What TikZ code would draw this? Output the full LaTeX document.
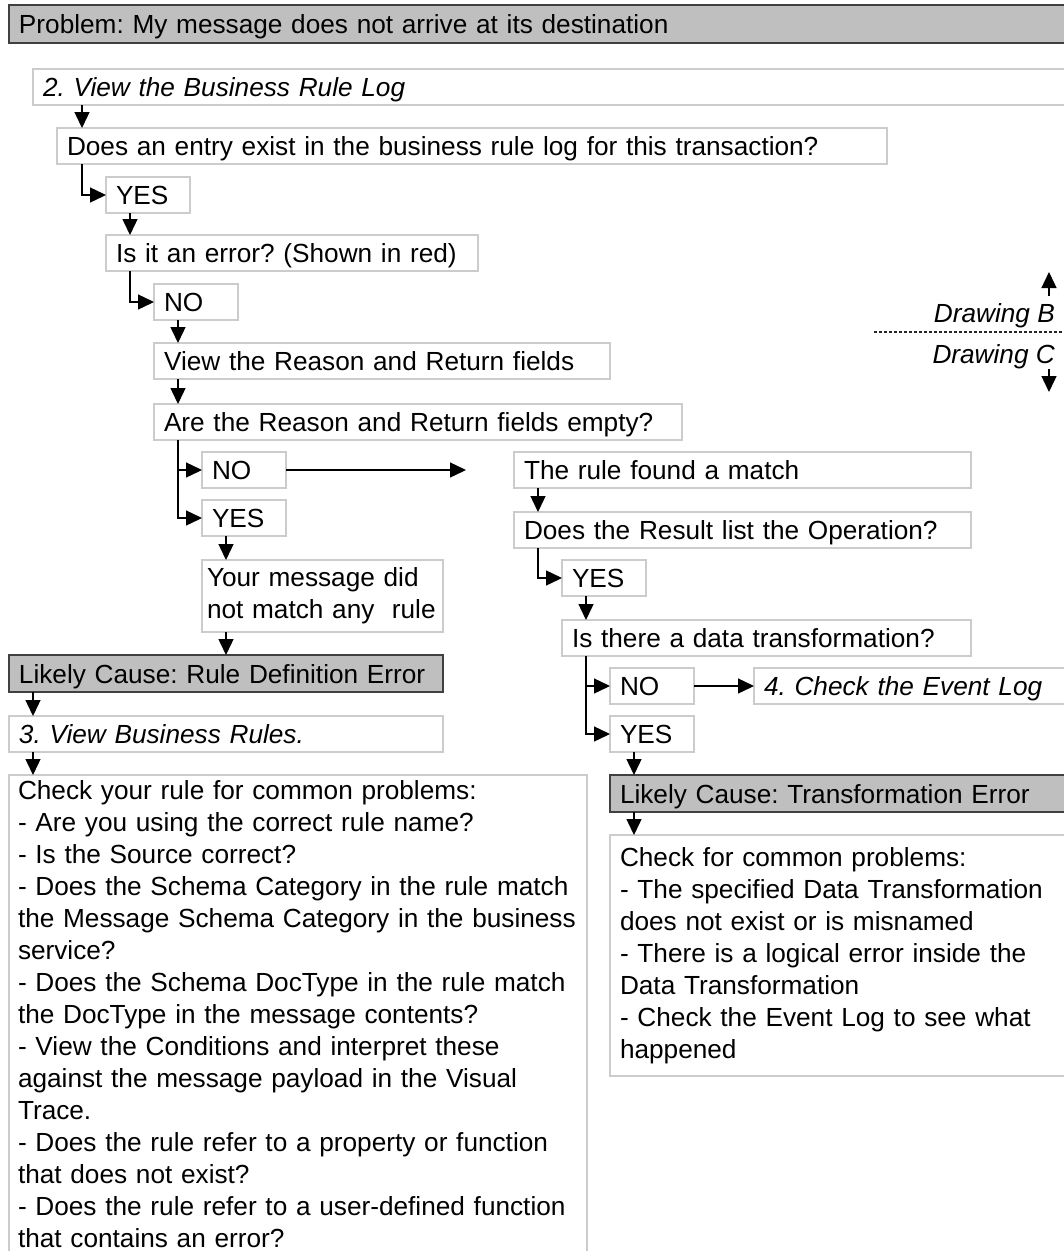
\documentclass[tikz,border=0pt]{standalone}
\usepackage{fontspec}
\setmainfont{Liberation Sans}
\usetikzlibrary{arrows.meta}
\frenchspacing
\hyphenpenalty=10000
\begin{document}
\begin{tikzpicture}[x=1pt, y=-1pt,
		box/.style={draw=black!20, line width=1.5pt, outer sep=0pt, anchor=north west,
			inner xsep=10pt, inner ysep=0pt, minimum height=36pt, align=left,
			text width=#1, font=\fontsize{26.2}{32}\selectfont},
		oneline/.style={text height=19pt, text depth=0pt},
		cause/.style={box=#1, oneline, fill=black!25, draw=black!75, line width=2pt, minimum height=37pt},
		arr/.style={-{Triangle[length=16pt,width=15pt]}, line width=1.4pt, black},
		lbl/.style={font=\fontsize{26.2}{32}\selectfont\itshape, inner sep=0pt, anchor=base east}]
	
	\useasboundingbox (0,0) rectangle (1064,1251);
	
	\node[cause=1080pt, minimum height=38pt] (problem) at (9,5) {Problem: My message does not arrive at its destination};
	\node[box=1080pt, oneline] (view2) at (33,69) {\itshape 2. View the Business Rule Log};
	\node[box=810pt, oneline] (q1) at (57,128) {Does an entry exist in the business rule log for this transaction?};
	\node[box=64pt, oneline] (yes1) at (106,177) {YES};
	\node[box=352pt, oneline] (q2) at (106,235) {Is it an error? (Shown in red)};
	\node[box=64pt, oneline] (no1) at (154,284) {NO};
	\node[box=436pt, oneline] (q3) at (154,343) {View the Reason and Return fields};
	\node[box=508pt, oneline] (q4) at (154,404) {Are the Reason and Return fields empty?};
	\node[box=64pt, oneline] (no2) at (202,452) {NO};
	\node[box=64pt, oneline] (yes2) at (202,500) {YES};
	\node[box=231pt, inner xsep=5pt, minimum height=72pt] (msg) at (202,560) {Your message did\\not match any~ rule};
	\node[cause=414pt] (cause1) at (9,655) {Likely Cause: Rule Definition Error};
	\node[box=414pt, oneline] (view3) at (9,716) {\itshape 3. View Business Rules.};
	\node[box=560pt, inner xsep=9pt, inner ysep=6pt] (check1) at (9,775) {Check your rule for common problems:\\
		- Are you using the correct rule name?\\
		- Is the Source correct?\\
		- Does the Schema Category in the rule match\\
		the Message Schema Category in the business\\
		service?\\
		- Does the Schema DocType in the rule match\\
		the DocType in the message contents?\\
		- View the Conditions and interpret these\\
		against the message payload in the Visual\\
		Trace.\\
		- Does the rule refer to a property or function\\
		that does not exist?\\
		- Does the rule refer to a user-defined function\\
		that contains an error?};
	
	\node[box=437pt, oneline] (found) at (514,452) {The rule found a match};
	\node[box=437pt, oneline] (q5) at (514,512) {Does the Result list the Operation?};
	\node[box=64pt, oneline] (yes3) at (562,560) {YES};
	\node[box=389pt, oneline] (q6) at (562,620) {Is there a data transformation?};
	\node[box=64pt, oneline] (no3) at (610,668) {NO};
	\node[box=64pt, oneline] (yes4) at (610,716) {YES};
	\node[box=340pt, oneline] (event) at (754,668) {\itshape 4. Check the Event Log};
	\node[cause=480pt] (cause2) at (610,775) {Likely Cause: Transformation Error};
	\node[box=480pt, minimum height=241pt] (check2) at (610,835) {Check for common problems:\\
		- The specified Data Transformation\\
		does not exist or is misnamed\\
		- There is a logical error inside the\\
		Data Transformation\\
		- Check the Event Log to see what\\
		happened};
	
	\draw[arr] ([xshift=49pt]view2.south west) -- ([xshift=25pt]q1.north west);
	\draw[arr] ([xshift=25pt]q1.south west) |- (yes1.west);
	\draw[arr] ([xshift=24pt]yes1.south west) -- ([xshift=24pt]q2.north west);
	\draw[arr] ([xshift=24pt]q2.south west) |- (no1.west);
	\draw[arr] ([xshift=24pt]no1.south west) -- ([xshift=24pt]q3.north west);
	\draw[arr] ([xshift=24pt]q3.south west) -- ([xshift=24pt]q4.north west);
	\draw[arr] ([xshift=24pt]q4.south west) |- (no2.west);
	\draw[arr] ([xshift=24pt]q4.south west) |- (yes2.west);
	\draw[arr] ([xshift=24pt]yes2.south west) -- ([xshift=24pt]msg.north west);
	\draw[arr] ([xshift=24pt]msg.south west) -- ([xshift=217pt]cause1.north west);
	\draw[arr] ([xshift=24pt]cause1.south west) -- ([xshift=24pt]view3.north west);
	\draw[arr] ([xshift=24pt]view3.south west) -- ([xshift=24pt]check1.north west);
	
	\draw[arr] (no2.east) -- ([xshift=-48pt]found.west);
	\draw[arr] ([xshift=24pt]found.south west) -- ([xshift=24pt]q5.north west);
	\draw[arr] ([xshift=24pt]q5.south west) |- (yes3.west);
	\draw[arr] ([xshift=24pt]yes3.south west) -- ([xshift=24pt]q6.north west);
	\draw[arr] ([xshift=24pt]q6.south west) |- (no3.west);
	\draw[arr] ([xshift=24pt]q6.south west) |- (yes4.west);
	\draw[arr] (no3.east) -- (event.west);
	\draw[arr] ([xshift=24pt]yes4.south west) -- ([xshift=24pt]cause2.north west);
	\draw[arr] ([xshift=24pt]cause2.south west) -- ([xshift=24pt]check2.north west);
	
	\node[lbl] (drawB) at (1055,322) {Drawing B};
	\node[lbl] (drawC) at (1055,363) {Drawing C};
	\coordinate (upB) at (1049,272);
	\coordinate (downC) at (1049,392);
	\draw[arr] ([xshift=-6pt,yshift=7pt]drawB.north east) -- (upB);
	\draw[arr] ([xshift=-6pt]drawC.south east) -- (downC);
	\draw[black!85, line width=1.5pt, dash pattern=on 3pt off 2pt] (874,332) -- (1064,332);
	
\end{tikzpicture}
\end{document}
